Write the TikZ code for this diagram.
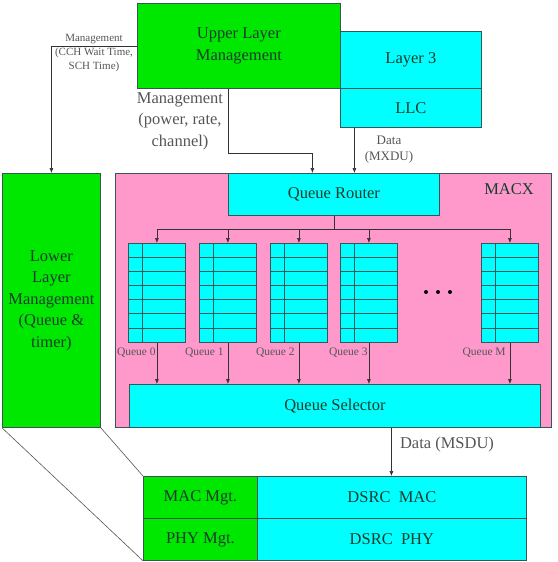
\documentclass[tikz,border=0pt]{standalone}
\usepackage{fontspec}
\setmainfont{Liberation Serif}
\usetikzlibrary{arrows.meta,calc}
\definecolor{gfill}{RGB}{0,232,0}
\definecolor{cfill}{RGB}{0,255,255}
\definecolor{pfill}{RGB}{255,153,204}
\definecolor{bcol}{RGB}{55,85,85}
\definecolor{tcol}{RGB}{25,60,45}
\definecolor{lcol}{RGB}{85,85,85}
\definecolor{ccol}{RGB}{50,50,50}
\tikzset{
  box/.style={draw=bcol, line width=0.8pt, inner sep=0pt, anchor=north west, align=center,
    font=\fontsize{16.5}{21.5}\selectfont, text=tcol},
  gbox/.style={box, fill=gfill},
  cbox/.style={box, fill=cfill},
  pbox/.style={box, fill=pfill},
  conn/.style={draw=ccol, line width=0.6pt, -{Latex[length=5pt,width=4pt]}},
  plain/.style={draw=ccol, line width=0.6pt},
  biglbl/.style={font=\fontsize{16.5}{21.5}\selectfont, text=lcol, align=center, inner sep=0pt},
  smllbl/.style={font=\fontsize{11}{14}\selectfont, text=lcol, align=center, inner sep=0pt},
  qlbl/.style={font=\fontsize{11.5}{14}\selectfont, text=lcol, inner sep=0pt, anchor=east},
}
\begin{document}
\begin{tikzpicture}[x=1pt,y=-1pt]
\useasboundingbox (0,0) rectangle (557,562);
% top boxes
\node[gbox, minimum width=203pt, minimum height=85pt] (ulm) at (137,3) {Upper Layer\\Management};
\node[cbox, minimum width=141pt, minimum height=57pt] (l3) at (340,31) {Layer 3};
\node[cbox, minimum width=141pt, minimum height=39pt] (llc) at (340,88) {LLC};
% lower layer management
\node[gbox, minimum width=98pt, minimum height=254pt] (llm) at (2,173) {Lower\\Layer\\Management\\(Queue \&\\timer)};
% MACX
\node[pbox, minimum width=436pt, minimum height=254pt] (macx) at (115,173) {};
\node[font=\fontsize{16.5}{20}\selectfont, text=tcol, inner sep=0pt] (macxl) at (509,189) {MACX};
\node[cbox, minimum width=211pt, minimum height=42pt] (qr) at (228,173) {Queue Router};
\node[cbox, minimum width=411pt, minimum height=43pt] (qs) at (129,384) {Queue Selector};
% queues
\foreach \n/\x in {q0/128,q1/199,q2/270,q3/340,qM/481}{
  \node[cbox, minimum width=57pt, minimum height=99pt] (\n) at (\x,243) {};
  \draw[bcol, line width=0.7pt] ($(\n.north west)+(14,0)$) -- ($(\n.south west)+(14,0)$);
  \foreach \k in {1,...,6}{
    \draw[bcol, line width=0.7pt] ($(\n.north west)+(0,{\k*99/7})$) -- ($(\n.north east)+(0,{\k*99/7})$);
  }
}
\node[qlbl] (lq0) at ($(q0.south)+(-1,10)$) {Queue 0};
\node[qlbl] (lq1) at ($(q1.south)+(-4,10)$) {Queue 1};
\node[qlbl] (lq2) at ($(q2.south)+(-4,10)$) {Queue 2};
\node[qlbl] (lq3) at ($(q3.south)+(-1,10)$) {Queue 3};
\node[qlbl] (lqM) at ($(qM.south)+(-4,10)$) {Queue M};
% dots
\foreach \x in {426,438,450}{ \fill[black] (\x,292) circle (2pt); }
% router fan-out
\coordinate (rj) at (qr.south |- 0,229);
\draw[plain] (qr.south) -- (rj);
\draw[plain] (q0.north |- rj) -- (qM.north |- rj);
\foreach \n in {q0,q1,q2,q3,qM}{
  \draw[conn] (\n.north |- rj) -- (\n.north);
  \draw[conn] (\n.south) -- (\n.south |- qs.north);
}
% bottom stack
\node[gbox, minimum width=114pt, minimum height=42pt] (macmgt) at (143,476) {MAC Mgt.};
\node[gbox, minimum width=114pt, minimum height=42pt] (phymgt) at (143,518) {PHY Mgt.};
\node[cbox, minimum width=269pt, minimum height=42pt] (dmac) at (257,476) {DSRC\ \ MAC};
\node[cbox, minimum width=269pt, minimum height=42pt] (dphy) at (257,518) {DSRC\ \ PHY};
% connectors
\draw[conn] (ulm.west) -| (llm.north);
\node[smllbl] (mlbl) at (94,53) {Management\\(CCH Wait Time,\\SCH Time)};
\draw[conn] ([xshift=-10.5pt]ulm.south) -- ++(0,64) -| ([xshift=-21.5pt]qr.north);
\node[biglbl] (mplbl) at (180,121) {Management\\(power, rate,\\channel)};
\draw[conn] ([xshift=-56.5pt]llc.south) -- ([xshift=-56.5pt]llc.south |- qr.north);
\node[font=\fontsize{13}{16}\selectfont, text=lcol, align=center, inner sep=0pt] (dlbl) at (389,150) {Data\\(MXDU)};
\draw[conn] ([xshift=56.5pt]qs.south) -- ([xshift=56.5pt]qs.south |- dmac.north);
\node[biglbl] (dslbl) at (447,445) {Data (MSDU)};
\draw[lcol, line width=0.6pt] (llm.south west) -- (phymgt.south west);
\draw[lcol, line width=0.6pt] (llm.south east) -- (macmgt.north west);
\end{tikzpicture}
\end{document}
